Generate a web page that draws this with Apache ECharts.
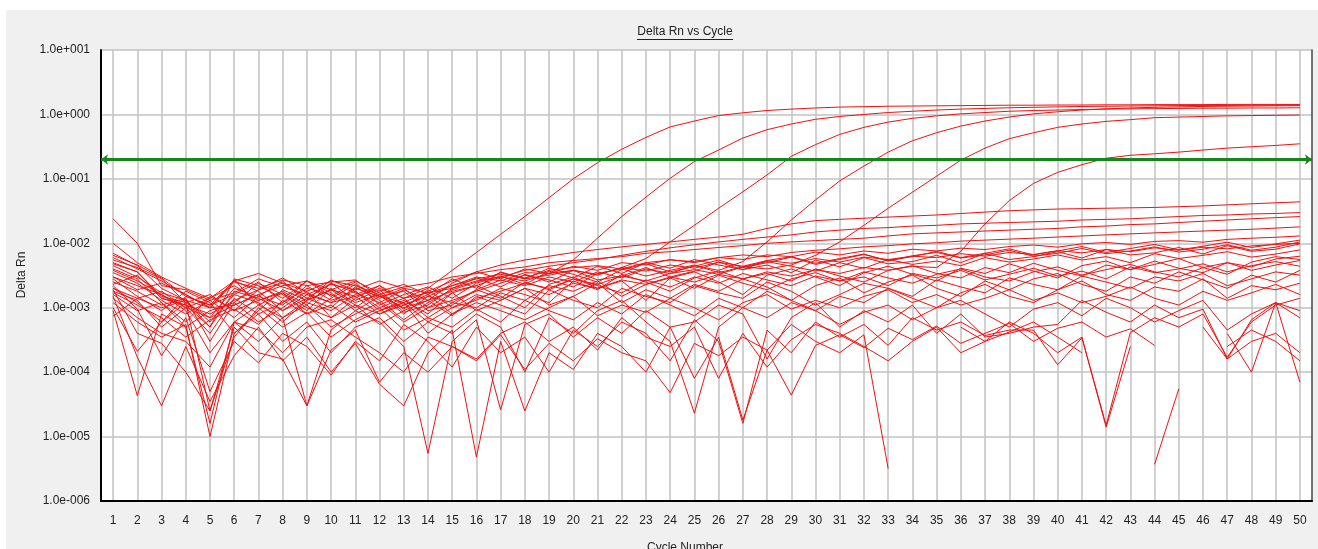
<!DOCTYPE html>
<html>
<head>
<meta charset="utf-8">
<title>Delta Rn vs Cycle</title>
<script src="https://cdn.jsdelivr.net/npm/echarts@6/dist/echarts.min.js"></script>
<style>
  html, body { margin: 0; padding: 0; background: #fff; }
  .panel { position: absolute; left: 6px; top: 10px; width: 1312px; height: 539px; background: #f0f0f0; }
  #chart { position: absolute; left: 0; top: 0; width: 1318px; height: 549px; }
</style>
</head>
<body>
<div class="panel"></div>
<div id="chart"></div>
<script>
// cycle numbers on the x axis
const cycles = [1, 2, 3, 4, 5, 6, 7, 8, 9, 10, 11, 12, 13, 14, 15, 16, 17, 18, 19, 20,
  21, 22, 23, 24, 25, 26, 27, 28, 29, 30, 31, 32, 33, 34, 35, 36, 37, 38, 39, 40,
  41, 42, 43, 44, 45, 46, 47, 48, 49, 50]
const threshold = 0.2

// amplified wells
const wellA = [5.0e-3, 3.6e-3, 1.5e-3, 1.2e-3, 7.0e-4, 2.0e-3, 1.5e-3, 1.1e-3, 2.2e-3, 1.3e-3, 1.8e-3, 1.0e-3, 1.4e-3, 2.0e-3, 3.8e-3, 7.2e-3, 1.38e-2, 2.6e-2, 5.1e-2, 0.100, 0.178, 0.288, 0.44, 0.64, 0.79, 0.96, 1.06, 1.15, 1.21, 1.26, 1.30, 1.32, 1.34, 1.35, 1.36, 1.37, 1.38, 1.39, 1.39, 1.40, 1.40, 1.41, 1.41, 1.42, 1.42, 1.42, 1.43, 1.43, 1.43, 1.43]
const wellB = [2.5e-3, 1.8e-3, 1.1e-3, 1.4e-3, 3.0e-4, 1.2e-3, 2.4e-3, 1.6e-3, 9.0e-4, 2.0e-3, 1.2e-3, 1.6e-3, 8.0e-4, 1.5e-3, 2.2e-3, 3.0e-3, 2.6e-3, 3.5e-3, 3.4e-3, 5.5e-3, 1.2e-2, 2.6e-2, 5.2e-2, 0.102, 0.186, 0.28, 0.43, 0.58, 0.71, 0.84, 0.93, 1.00, 1.07, 1.12, 1.17, 1.21, 1.24, 1.27, 1.29, 1.31, 1.33, 1.34, 1.35, 1.36, 1.37, 1.38, 1.38, 1.39, 1.39, 1.40]
const wellC = [4.0e-3, 2.8e-3, 1.2e-3, 6.0e-4, 1.5e-3, 9.0e-4, 1.9e-3, 2.4e-3, 1.4e-3, 1.0e-3, 2.1e-3, 1.3e-3, 6.5e-4, 1.2e-3, 1.9e-3, 2.5e-3, 3.5e-3, 2.8e-3, 3.2e-3, 3.8e-3, 3.3e-3, 4.2e-3, 5.8e-3, 1.05e-2, 1.9e-2, 3.5e-2, 6.3e-2, 0.115, 0.224, 0.34, 0.49, 0.63, 0.76, 0.87, 0.95, 1.02, 1.07, 1.12, 1.15, 1.17, 1.19, 1.21, 1.22, 1.23, 1.24, 1.25, 1.25, 1.26, 1.26, 1.27]
const wellD = [1.8e-3, 1.3e-3, 5.0e-4, 1.0e-3, 4.0e-4, 1.4e-3, 8.0e-4, 1.2e-3, 2.6e-3, 1.7e-3, 9.0e-4, 1.5e-3, 1.8e-3, 9.0e-4, 1.1e-3, 1.9e-3, 2.7e-3, 2.2e-3, 3.0e-3, 2.5e-3, 3.6e-3, 2.9e-3, 4.0e-3, 3.4e-3, 4.5e-3, 3.8e-3, 5.2e-3, 1.05e-2, 2.3e-2, 4.7e-2, 9.3e-2, 0.158, 0.26, 0.39, 0.52, 0.66, 0.79, 0.91, 1.02, 1.10, 1.17, 1.22, 1.26, 1.29, 1.31, 1.33, 1.34, 1.35, 1.36, 1.37]
const wellE = [3.0e-3, 2.2e-3, 1.6e-3, 9.0e-4, 2.0e-4, 6.0e-4, 1.1e-3, 1.7e-3, 1.0e-3, 7.0e-4, 1.4e-3, 2.2e-3, 1.1e-3, 1.6e-3, 8.0e-4, 1.4e-3, 1.8e-3, 2.4e-3, 2.0e-3, 2.8e-3, 2.3e-3, 3.1e-3, 2.6e-3, 3.4e-3, 3.9e-3, 3.3e-3, 4.3e-3, 4.0e-3, 4.6e-3, 6.5e-3, 1.05e-2, 1.9e-2, 3.5e-2, 6.2e-2, 0.11, 0.195, 0.30, 0.42, 0.52, 0.63, 0.71, 0.78, 0.83, 0.89, 0.91, 0.93, 0.95, 0.96, 0.97, 0.98]
const wellF = [2.0e-3, 1.4e-3, 1.0e-3, 1.3e-3, 6.0e-4, 1.6e-3, 1.2e-3, 6.0e-4, 1.3e-3, 1.9e-3, 1.1e-3, 8.0e-4, 1.2e-3, 6.0e-4, 1.0e-3, 1.6e-3, 1.3e-3, 2.0e-3, 1.6e-3, 2.4e-3, 2.0e-3, 2.7e-3, 2.3e-3, 3.0e-3, 2.5e-3, 3.3e-3, 2.8e-3, 3.6e-3, 3.1e-3, 3.9e-3, 3.4e-3, 4.2e-3, 3.8e-3, 4.4e-3, 4.2e-3, 7.5e-3, 2.0e-2, 4.6e-2, 8.5e-2, 0.126, 0.166, 0.209, 0.232, 0.245, 0.26, 0.28, 0.30, 0.315, 0.33, 0.35]

// slowly drifting wells
const wellG1 = [6.0e-3, 4.0e-3, 2.6e-3, 1.6e-3, 1.0e-3, 2.5e-3, 2.0e-3, 2.7e-3, 2.2e-3, 2.5e-3, 2.7e-3, 1.5e-3, 1.2e-3, 1.8e-3, 2.6e-3, 3.6e-3, 4.6e-3, 5.5e-3, 6.3e-3, 7.2e-3, 8.0e-3, 8.8e-3, 9.6e-3, 1.05e-2, 1.15e-2, 1.25e-2, 1.38e-2, 1.7e-2, 2.0e-2, 2.25e-2, 2.35e-2, 2.45e-2, 2.55e-2, 2.65e-2, 2.75e-2, 2.9e-2, 3.05e-2, 3.2e-2, 3.3e-2, 3.4e-2, 3.45e-2, 3.5e-2, 3.55e-2, 3.6e-2, 3.7e-2, 3.8e-2, 3.95e-2, 4.1e-2, 4.25e-2, 4.4e-2]
const wellG2 = [2.4e-2, 1.0e-2, 2.2e-3, 1.9e-3, 1.3e-3, 1.7e-3, 2.8e-3, 2.1e-3, 1.6e-3, 2.3e-3, 1.9e-3, 2.6e-3, 2.0e-3, 1.7e-3, 2.0e-3, 2.6e-3, 3.0e-3, 3.8e-3, 4.4e-3, 5.0e-3, 5.6e-3, 6.5e-3, 7.5e-3, 8.5e-3, 9.5e-3, 1.05e-2, 1.15e-2, 1.25e-2, 1.35e-2, 1.5e-2, 1.6e-2, 1.7e-2, 1.75e-2, 1.85e-2, 1.9e-2, 2.0e-2, 2.05e-2, 2.1e-2, 2.15e-2, 2.2e-2, 2.3e-2, 2.35e-2, 2.4e-2, 2.5e-2, 2.6e-2, 2.7e-2, 2.75e-2, 2.85e-2, 2.9e-2, 3.0e-2]
const wellG3 = [1.0e-2, 5.0e-3, 3.0e-3, 2.0e-3, 1.4e-3, 2.6e-3, 3.4e-3, 2.4e-3, 1.8e-3, 2.6e-3, 2.2e-3, 1.6e-3, 2.1e-3, 2.4e-3, 3.0e-3, 3.4e-3, 3.9e-3, 4.3e-3, 5.0e-3, 5.4e-3, 5.8e-3, 6.2e-3, 7.0e-3, 7.4e-3, 8.0e-3, 8.6e-3, 9.2e-3, 1.0e-2, 1.05e-2, 1.1e-2, 1.15e-2, 1.2e-2, 1.3e-2, 1.4e-2, 1.45e-2, 1.5e-2, 1.55e-2, 1.6e-2, 1.65e-2, 1.7e-2, 1.8e-2, 1.85e-2, 1.95e-2, 2.0e-2, 2.1e-2, 2.2e-2, 2.3e-2, 2.4e-2, 2.5e-2, 2.6e-2]
const wellG4 = [7.0e-3, 4.5e-3, 2.0e-3, 1.3e-3, 1.0e-3, 1.1e-3, 1.6e-3, 2.2e-3, 2.6e-3, 1.9e-3, 1.5e-3, 2.0e-3, 1.4e-3, 1.7e-3, 2.2e-3, 2.8e-3, 3.3e-3, 2.9e-3, 3.8e-3, 4.2e-3, 4.5e-3, 4.0e-3, 5.0e-3, 5.5e-3, 5.2e-3, 6.0e-3, 6.6e-3, 6.2e-3, 7.2e-3, 7.8e-3, 8.2e-3, 8.8e-3, 9.2e-3, 9.8e-3, 1.02e-2, 1.08e-2, 1.12e-2, 1.16e-2, 1.2e-2, 1.25e-2, 1.3e-2, 1.35e-2, 1.4e-2, 1.45e-2, 1.5e-2, 1.55e-2, 1.6e-2, 1.65e-2, 1.72e-2, 1.8e-2]
const wellG5 = [5.5e-3, 4.2e-3, 2.8e-3, 1.2e-3, 1.6e-3, 9.0e-4, 1.3e-3, 1.8e-3, 1.1e-3, 2.4e-3, 1.7e-3, 1.2e-3, 1.9e-3, 1.3e-3, 2.4e-3, 3.6e-3, 2.8e-3, 4.0e-3, 3.4e-3, 4.4e-3, 3.8e-3, 5.0e-3, 4.6e-3, 5.6e-3, 5.0e-3, 6.0e-3, 5.6e-3, 6.6e-3, 6.2e-3, 7.3e-3, 6.6e-3, 7.6e-3, 7.0e-3, 8.1e-3, 7.6e-3, 8.4e-3, 8.0e-3, 8.9e-3, 9.4e-3, 8.7e-3, 9.8e-3, 1.03e-2, 9.6e-3, 1.07e-2, 1.1e-2, 1.04e-2, 1.15e-2, 1.2e-2, 1.24e-2, 1.3e-2]
const wellG6 = [4.8e-3, 3.6e-3, 1.4e-3, 1.1e-3, 5.0e-4, 1.8e-3, 1.4e-3, 9.0e-4, 1.6e-3, 1.2e-3, 2.0e-3, 1.5e-3, 1.0e-3, 1.3e-3, 1.8e-3, 2.2e-3, 3.0e-3, 2.6e-3, 3.4e-3, 3.8e-3, 3.2e-3, 4.2e-3, 3.7e-3, 4.6e-3, 4.1e-3, 5.1e-3, 4.4e-3, 5.4e-3, 4.9e-3, 5.8e-3, 5.1e-3, 6.1e-3, 5.6e-3, 6.3e-3, 6.0e-3, 6.9e-3, 6.3e-3, 7.2e-3, 6.7e-3, 7.7e-3, 7.1e-3, 8.0e-3, 7.4e-3, 8.5e-3, 7.8e-3, 8.7e-3, 8.2e-3, 9.1e-3, 9.6e-3, 1.0e-2]

// background noise wells
const wellN1 = [2.0e-3, 1.2e-3, 6.0e-4, 1.5e-3, 1.1e-3, 2.6e-3, 1.8e-3, 9.0e-4, 1.4e-3, 2.4e-3, 1.3e-3, 1.9e-3, 8.5e-4, 1.1e-3, 2.0e-3, 2.9e-3, 2.1e-3, 3.3e-3, 2.5e-3, 3.8e-3, 2.7e-3, 3.1e-3, 4.2e-3, 3.0e-3, 3.7e-3, 5.1e-3, 3.9e-3, 4.6e-3, 3.5e-3, 5.5e-3, 4.3e-3, 6.0e-3, 4.8e-3, 5.2e-3, 6.5e-3, 5.0e-3, 7.0e-3, 5.6e-3, 6.2e-3, 7.4e-3, 5.9e-3, 8.0e-3, 6.6e-3, 7.1e-3, 8.6e-3, 6.8e-3, 9.2e-3, 7.5e-3, 8.1e-3, 9.8e-3]
const wellN2 = [3.5e-3, 2.4e-3, 1.3e-3, 8.0e-4, 1.3e-3, 7.0e-4, 1.5e-3, 2.6e-3, 1.2e-3, 9.0e-4, 1.6e-3, 2.2e-3, 1.4e-3, 7.0e-4, 1.2e-3, 1.0e-3, 1.7e-3, 1.3e-3, 2.2e-3, 1.8e-3, 2.6e-3, 1.5e-3, 2.3e-3, 2.9e-3, 2.0e-3, 3.2e-3, 2.4e-3, 1.9e-3, 2.8e-3, 3.5e-3, 2.6e-3, 3.0e-3, 2.2e-3, 3.4e-3, 2.9e-3, 3.8e-3, 2.7e-3, 3.3e-3, 4.1e-3, 3.1e-3, 3.7e-3, 2.8e-3, 4.3e-3, 3.5e-3, 4.0e-3, 4.8e-3, 3.6e-3, 4.5e-3, 5.2e-3, 4.4e-3]
const wellN3 = [1.6e-3, 9.0e-4, 1.2e-3, 5.0e-4, 9.0e-4, 1.2e-3, 6.0e-4, 1.0e-3, 1.8e-3, 7.0e-4, 1.1e-3, 5.5e-4, 9.0e-4, 1.3e-3, 7.5e-4, 1.5e-3, 1.1e-3, 8.0e-4, 1.9e-3, 1.3e-3, 1.0e-3, 2.0e-3, 1.5e-3, 1.2e-3, 2.2e-3, 1.7e-3, 1.4e-3, 2.5e-3, 1.8e-3, 1.1e-3, 1.6e-3, 2.4e-3, 2.0e-3, 1.5e-3, 2.7e-3, 2.1e-3, 1.7e-3, 2.9e-3, 2.3e-3, 1.9e-3, 3.1e-3, 2.5e-3, 2.0e-3, 3.0e-3, 2.6e-3, 3.4e-3, 2.2e-3, 2.8e-3, 3.6e-3, 3.2e-3]
const wellN4 = [4.5e-3, 3.0e-3, 1.7e-3, 1.3e-3, 5.0e-4, 2.8e-3, 2.2e-3, 1.4e-3, 2.6e-3, 1.5e-3, 2.5e-3, 1.1e-3, 1.6e-3, 2.1e-3, 1.4e-3, 2.4e-3, 3.1e-3, 2.3e-3, 3.7e-3, 2.9e-3, 4.4e-3, 3.4e-3, 5.0e-3, 4.1e-3, 5.6e-3, 4.6e-3, 3.9e-3, 5.4e-3, 6.2e-3, 4.9e-3, 5.8e-3, 6.8e-3, 5.3e-3, 6.4e-3, 7.2e-3, 5.9e-3, 6.6e-3, 7.8e-3, 6.3e-3, 7.0e-3, 8.3e-3, 6.9e-3, 7.6e-3, 8.8e-3, 7.3e-3, 8.1e-3, 9.5e-3, 7.8e-3, 8.7e-3, 1.05e-2]
const wellN5 = [2.8e-3, 1.5e-3, 9.0e-4, 1.8e-3, 1.2e-3, 4.0e-4, 9.0e-4, 1.9e-3, 1.3e-3, 2.7e-3, 1.8e-3, 9.0e-4, 1.3e-3, 8.0e-4, 1.7e-3, 2.2e-3, 1.5e-3, 1.0e-3, 2.3e-3, 3.0e-3, 2.0e-3, 2.6e-3, 1.3e-3, 2.9e-3, 3.6e-3, 2.5e-3, 1.6e-3, 3.2e-3, 4.0e-3, 3.0e-3, 2.2e-3, 3.5e-3, 4.4e-3, 3.3e-3, 2.6e-3, 4.1e-3, 3.4e-3, 4.8e-3, 3.7e-3, 2.9e-3, 4.5e-3, 5.3e-3, 3.9e-3, 4.7e-3, 5.8e-3, 4.2e-3, 3.3e-3, 5.1e-3, 6.2e-3, 5.6e-3]
const wellN6 = [7.4e-4, 1.4e-3, 1.8e-3, 1.0e-3, 7.0e-4, 1.1e-3, 1.6e-3, 7.0e-4, 1.1e-3, 5.0e-4, 8.0e-4, 1.2e-3, 6.0e-4, 1.0e-3, 1.7e-3, 9.0e-4, 1.3e-3, 2.0e-3, 1.1e-3, 1.5e-3, 2.4e-3, 1.2e-3, 1.9e-3, 1.4e-3, 2.3e-3, 1.8e-3, 2.8e-3, 2.1e-3, 1.3e-3, 2.2e-3, 2.9e-3, 1.7e-3, 2.5e-3, 3.2e-3, 2.0e-3, 1.5e-3, 2.6e-3, 1.9e-3, 2.8e-3, 3.4e-3, 2.3e-3, 1.8e-3, 3.0e-3, 2.4e-3, 3.6e-3, 2.7e-3, 2.0e-3, 3.2e-3, 2.5e-3, 3.8e-3]
const wellN7 = [3.8e-3, 2.6e-3, 1.6e-3, 1.0e-3, 1.4e-3, 2.2e-3, 1.3e-3, 1.7e-3, 8.0e-4, 1.4e-3, 2.3e-3, 1.4e-3, 2.0e-3, 1.0e-3, 1.3e-3, 1.8e-3, 2.4e-3, 3.2e-3, 2.7e-3, 2.1e-3, 3.4e-3, 4.0e-3, 3.1e-3, 3.8e-3, 4.6e-3, 3.5e-3, 4.3e-3, 5.2e-3, 4.4e-3, 3.7e-3, 5.0e-3, 4.1e-3, 5.6e-3, 4.7e-3, 5.3e-3, 4.5e-3, 6.0e-3, 5.1e-3, 5.7e-3, 6.6e-3, 5.5e-3, 6.2e-3, 5.0e-3, 6.9e-3, 5.8e-3, 6.5e-3, 7.4e-3, 6.1e-3, 6.8e-3, 7.9e-3]
const wellN8 = [1.0e-3, 2.1e-4, 6.0e-4, 1.2e-3, 2.5e-5, 3.5e-4, 1.0e-3, 5.0e-4, 8.5e-4, 3.5e-4, 6.5e-4, 1.0e-3, 4.5e-4, 7.0e-4, 5.0e-4, 9.5e-4, 6.0e-4, 1.3e-3, 9.0e-4, 6.5e-4, 1.2e-3, 8.0e-4, 1.6e-3, 1.1e-3, 7.5e-4, 1.4e-3, 1.0e-3, 1.8e-3, 1.3e-3, 9.0e-4, 1.5e-3, 1.2e-3, 2.0e-3, 1.4e-3, 1.0e-3, 1.7e-3, 2.3e-3, 1.5e-3, 1.2e-3, 1.9e-3, 2.6e-3, 1.6e-3, 1.3e-3, 2.1e-3, 1.8e-3, 2.8e-3, 1.4e-3, 2.2e-3, 1.9e-3, 2.4e-3]
const wellN9 = [6.5e-3, 4.6e-3, 2.9e-3, 1.5e-3, 1.1e-3, 1.6e-3, 2.5e-3, 1.2e-3, 2.0e-3, 1.6e-3, 1.0e-3, 1.8e-3, 2.3e-3, 1.6e-3, 2.8e-3, 2.0e-3, 3.6e-3, 2.8e-3, 4.1e-3, 3.3e-3, 2.5e-3, 3.9e-3, 4.8e-3, 3.6e-3, 4.4e-3, 5.5e-3, 4.2e-3, 5.0e-3, 6.1e-3, 4.7e-3, 5.6e-3, 6.7e-3, 5.4e-3, 6.2e-3, 7.5e-3, 6.0e-3, 7.0e-3, 8.2e-3, 6.6e-3, 7.6e-3, 8.9e-3, 7.2e-3, 8.3e-3, 9.6e-3, 7.9e-3, 9.0e-3, 1.04e-2, 8.6e-3, 9.8e-3, 1.12e-2]
const wellN10 = [2.3e-3, 3.2e-3, 1.4e-3, 1.1e-3, 8.0e-4, 1.3e-3, 1.9e-3, 2.9e-3, 1.7e-3, 1.2e-3, 1.5e-3, 8.0e-4, 1.1e-3, 1.5e-3, 1.2e-3, 1.9e-3, 1.4e-3, 2.5e-3, 1.9e-3, 2.8e-3, 2.2e-3, 1.7e-3, 2.7e-3, 2.1e-3, 3.0e-3, 2.4e-3, 3.4e-3, 2.7e-3, 2.2e-3, 3.1e-3, 2.6e-3, 3.6e-3, 2.9e-3, 2.4e-3, 3.3e-3, 4.0e-3, 3.0e-3, 2.6e-3, 3.6e-3, 4.3e-3, 3.2e-3, 3.9e-3, 4.7e-3, 3.6e-3, 3.0e-3, 4.2e-3, 5.0e-3, 3.8e-3, 4.6e-3, 5.4e-3]
const wellN11 = [3.0e-3, 1.9e-3, 2.4e-3, 1.6e-3, 1.0e-3, 2.7e-3, 1.1e-3, 7.0e-4, 1.3e-3, 1.9e-3, 2.6e-3, 1.7e-3, 9.5e-4, 1.9e-3, 1.0e-3, 1.3e-3, 2.0e-3, 1.6e-3, 1.2e-3, 2.6e-3, 1.9e-3, 3.3e-3, 2.5e-3, 1.8e-3, 2.9e-3, 3.7e-3, 2.8e-3, 3.4e-3, 2.6e-3, 4.0e-3, 3.1e-3, 2.5e-3, 3.8e-3, 4.5e-3, 3.4e-3, 2.9e-3, 4.2e-3, 3.5e-3, 4.9e-3, 3.8e-3, 3.1e-3, 4.6e-3, 3.9e-3, 5.3e-3, 4.1e-3, 3.5e-3, 5.0e-3, 4.3e-3, 5.7e-3, 6.3e-3]
const wellN12 = [1.7e-3, 1.1e-3, 7.0e-4, 3.5e-4, 6.5e-4, 9.5e-4, 5.5e-4, 1.3e-3, 8.0e-4, 1.1e-3, 6.0e-4, 9.0e-4, 1.2e-3, 4.0e-4, 8.0e-4, 1.2e-3, 9.0e-4, 6.5e-4, 1.0e-3, 1.5e-3, 7.5e-4, 1.1e-3, 8.5e-4, 1.4e-3, 1.0e-3, 6.5e-4, 1.2e-3, 1.6e-3, 9.5e-4, 1.3e-3, 1.0e-3, 1.5e-3, 1.9e-3, 1.2e-3, 1.6e-3, 1.1e-3, 1.4e-3, 1.9e-3, 1.3e-3, 1.7e-3, 1.2e-3, 1.5e-3, 2.1e-3, 1.4e-3, 1.1e-3, 1.8e-3, 1.3e-3, 1.7e-3, 2.3e-3, 1.6e-3]

// low wells, with dropouts where the value went negative
const wellL1 = [1.2e-3, 6.0e-4, 3.5e-4, 5.5e-4, 1.0e-5, 4.0e-4, 8.0e-4, 3.0e-4, 6.0e-4, 2.0e-4, 5.0e-4, 7.0e-4, 3.0e-4, 6.0e-4, 4.0e-4, 8.0e-4, 5.0e-4, 1.0e-4, 7.0e-4, 4.0e-4, 9.0e-4, 1.3e-3, 6.0e-4, 3.0e-4, 2.3e-5, 5.0e-4, 1.0e-3, 7.0e-4, 1.2e-3, 9.0e-4, 5.5e-4, 8.5e-4, 1.1e-3, 6.5e-4, 1.0e-3, 1.3e-3, 8.0e-4, 5.0e-4, 9.5e-4, 1.2e-3, 7.5e-4, 1.4e-3, 1.0e-3, 6.0e-4, 9.0e-4, 1.3e-3, 4.5e-4, 8.0e-4, 1.2e-3, 7.0e-4]
const wellL2 = [9.0e-4, 4.3e-5, 8.0e-4, 5.0e-4, 1.6e-5, 6.0e-4, 3.0e-4, 7.0e-4, 3.0e-5, 4.5e-4, 9.0e-4, 6.0e-4, 2.5e-4, 5.5e-6, 3.0e-4, 6.5e-4, 2.6e-5, 5.5e-4, 8.0e-4, 3.5e-4, 7.0e-4, 4.0e-4, 9.0e-4, 5.0e-4, 6.0e-4, 1.1e-3, 8.0e-4, 1.6e-4, 7.0e-4, 1.2e-3, 5.0e-4, 9.0e-4, 6.0e-4, 1.1e-3, 4.0e-4, 8.0e-4, 3.5e-4, 4.0e-4, 5.0e-4, 5.5e-4, 1.3e-3, 8.5e-4, 6.0e-4, 1.1e-3, 7.0e-4, 9.5e-4, 1.6e-4, 6.5e-4, 1.2e-3, 9.0e-4]
const wellL3 = [1.5e-3, 1.7e-4, 3.0e-5, 2.5e-4, 3.5e-5, 1.8e-4, 5.0e-4, 1.5e-4, 3.5e-4, 1.0e-4, 2.8e-4, 6.5e-5, 3.0e-5, 2.0e-4, 4.5e-4, 4.8e-6, 3.0e-4, 2.5e-5, 2.0e-4, 1.1e-4, 4.0e-4, 2.5e-4, 1.0e-4, 5.0e-4, 8.0e-5, 3.5e-4, 1.8e-5, 2.2e-4, 5.5e-4, 3.0e-4, 2.0e-4, 3.8e-4, 3.2e-6, null, null, 5.0e-4, 3.0e-4, 6.0e-4, 4.0e-4, 2.0e-4, 3.5e-4, 1.4e-5, 2.5e-4, null, null, 5.0e-4, 1.6e-4, 3.0e-4, 4.0e-4, 2.0e-4]
const wellL4 = [2.2e-3, 9.5e-4, 1.8e-4, 7.0e-4, 5.0e-5, 3.0e-4, 1.4e-4, 4.0e-4, 2.5e-4, 9.0e-5, 3.0e-4, 1.5e-4, 5.5e-4, 3.0e-4, 1.2e-4, 5.0e-4, 2.0e-4, 3.5e-4, 1.0e-4, 4.5e-4, 2.5e-4, 6.0e-4, 4.0e-4, 1.5e-4, 6.5e-4, 3.0e-4, 1.6e-5, 4.5e-4, 2.0e-4, 6.0e-4, 3.5e-4, 5.5e-4, 2.6e-4, 7.0e-4, 4.5e-4, 6.0e-4, 3.7e-4, 4.5e-4, 4.5e-4, 1.3e-4, 3.4e-4, 1.5e-5, 4.1e-4, 7.0e-4, 5.0e-4, 8.0e-4, 1.7e-4, 6.0e-4, 1.1e-3, 1.4e-3]
const wellL5 = [1.9e-3, 4.0e-4, 2.8e-4, 1.0e-4, 2.5e-5, 5.0e-4, 2.0e-4, 1.6e-4, 3.0e-5, 2.2e-4, 4.5e-4, 7.0e-5, 2.0e-4, 1.0e-4, 2.5e-4, 1.5e-4, 3.8e-4, 1.1e-4, 2.8e-4, 1.5e-4, 3.3e-4, 2.0e-4, 1.5e-4, 4.8e-5, 2.8e-4, 1.8e-4, 3.5e-4, 2.2e-4, 4.4e-5, 2.6e-4, 3.8e-4, 2.4e-4, 4.8e-4, 3.2e-4, 5.2e-4, 2.8e-4, 4.0e-4, 5.7e-4, 3.0e-4, 4.8e-4, 6.0e-4, 3.5e-4, 4.7e-4, 2.6e-4, null, null, 4.0e-4, 1.0e-4, 1.2e-3, 7.0e-5]
const wellL6 = [1.4e-3, 7.0e-4, 4.0e-4, 3.0e-4, 1.2e-4, 6.0e-4, 4.5e-4, 2.0e-4, 5.0e-4, 6.5e-4, 3.5e-4, 2.0e-4, 1.0e-4, 3.5e-4, 2.5e-4, 1.6e-4, 4.0e-4, 6.0e-4, 3.0e-4, 5.0e-4, 2.2e-4, 7.0e-4, 3.5e-4, 2.5e-4, 5.0e-4, 8.0e-5, 4.0e-4, 1.2e-4, 3.2e-4, 5.5e-4, 4.0e-4, 2.5e-4, 1.5e-4, 3.0e-4, 5.0e-4, 2.0e-4, 3.0e-4, 4.2e-4, 6.0e-4, 3.5e-4, 2.0e-4, null, null, 3.7e-6, 5.5e-5, null, 2.5e-4, 4.5e-4, 3.0e-4, 1.5e-4]

const wells = [wellA, wellB, wellC, wellD, wellE, wellF,
  wellG1, wellG2, wellG3, wellG4, wellG5, wellG6,
  wellN1, wellN2, wellN3, wellN4, wellN5, wellN6, wellN7, wellN8, wellN9, wellN10, wellN11, wellN12,
  wellL1, wellL2, wellL3, wellL4, wellL5, wellL6]

const font = '"Liberation Sans", Arial, sans-serif'

// 1.0e-003 style labels
const sciLabel = (v) => {
  const e = Math.round(Math.log10(v))
  return '1.0e' + (e < 0 ? '-' : '+') + String(Math.abs(e)).padStart(3, '0')
}

const series = wells.map((w) => ({
  type: 'line',
  data: cycles.map((c, i) => [c, w[i]]),
  symbol: 'none',
  connectNulls: false,
  lineStyle: { color: '#ee1111', width: 1 },
  silent: true
}))

// threshold line with arrows on both ends
series.push({
  type: 'line',
  data: [],
  z: 10,
  markLine: {
    silent: true,
    symbol: ['arrow', 'arrow'],
    symbolSize: [8, 7],
    label: { show: false },
    lineStyle: { color: '#15861b', width: 3, type: 'solid' },
    data: [{ yAxis: threshold }]
  }
})

const chart = echarts.init(document.getElementById('chart'))
chart.setOption({
  animation: false,
  grid: {
    left: 101,
    right: 6,
    top: 50,
    bottom: 48,
    show: true,
    backgroundColor: '#fff',
    borderWidth: 0
  },
  xAxis: {
    type: 'value',
    min: 0.5,
    max: 50.5,
    axisLine: { show: true, onZero: false, lineStyle: { color: '#000', width: 2 } },
    axisTick: { show: false, customValues: cycles },
    axisLabel: { customValues: cycles, color: '#222', fontFamily: font, fontSize: 12, margin: 14 },
    splitLine: { show: true, lineStyle: { color: '#c2c2c2', width: 1.5 } }
  },
  yAxis: [
    {
      type: 'log',
      logBase: 10,
      min: 1e-6,
      max: 10,
      interval: 1,
      axisLine: { show: true, lineStyle: { color: '#000', width: 2 } },
      axisTick: { show: false },
      axisLabel: { formatter: sciLabel, color: '#222', fontFamily: font, fontSize: 12, margin: 11 },
      splitLine: { show: true, lineStyle: { color: '#c2c2c2', width: 1.5 } }
    },
    {
      type: 'log',
      logBase: 10,
      min: 1e-6,
      max: 10,
      position: 'right',
      axisLine: { show: true, lineStyle: { color: '#444', width: 1.5 } },
      axisTick: { show: false },
      axisLabel: { show: false },
      splitLine: { show: false }
    }
  ],
  graphic: [
    { type: 'text', x: 685, y: 32, style: { text: 'Delta Rn vs Cycle', font: '12px ' + font, fill: '#222', align: 'center', verticalAlign: 'middle' } },
    { type: 'line', shape: { x1: 637, y1: 39.5, x2: 733, y2: 39.5 }, style: { stroke: '#222', lineWidth: 1 } },
    { type: 'text', x: 22, y: 275, rotation: Math.PI / 2, style: { text: 'Delta Rn', font: '12px ' + font, fill: '#222', align: 'center', verticalAlign: 'middle' } },
    { type: 'text', x: 685, y: 548, style: { text: 'Cycle Number', font: '12px ' + font, fill: '#222', align: 'center', verticalAlign: 'middle' } }
  ],
  series: series
})
</script>
</body>
</html>
